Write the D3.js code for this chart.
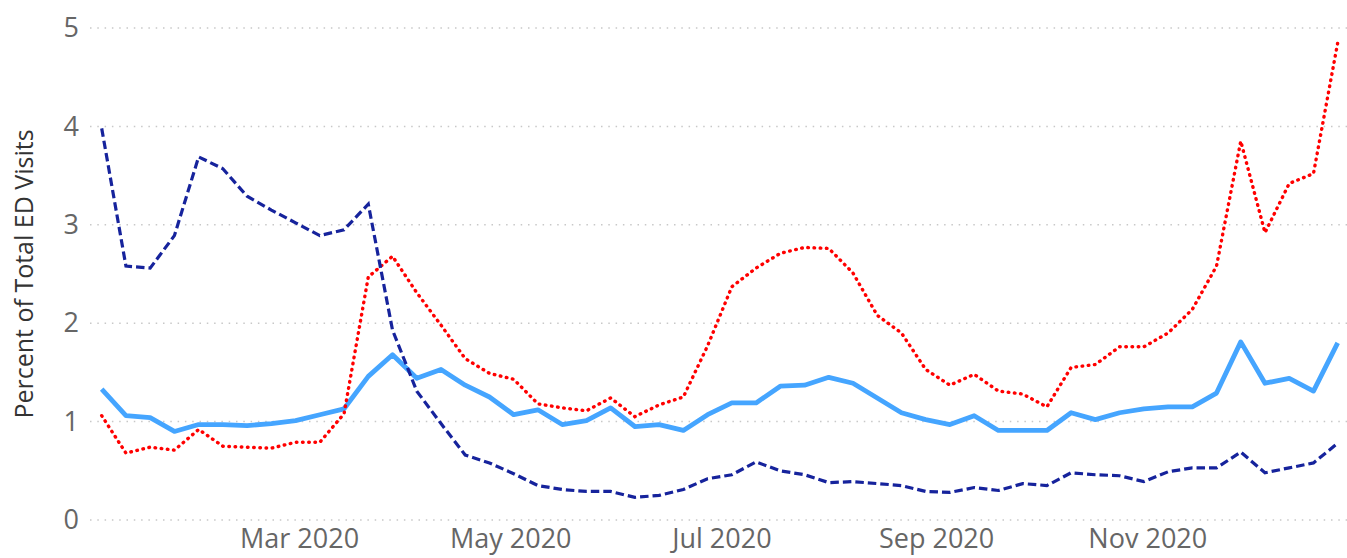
<!DOCTYPE html>
<html>
<head>
<meta charset="utf-8">
<script src="https://cdn.jsdelivr.net/npm/d3@7"></script>
<style>
  html, body { margin: 0; padding: 0; background: #fff; }
  svg { display: block; }
  text { font-family: "Segoe UI", "Open Sans", "Noto Sans", sans-serif; }
</style>
</head>
<body>
<svg id="chart" width="1347" height="558"></svg>
<script>
// ---- data ----
const weeks = [
  "2020-01-04","2020-01-11","2020-01-18","2020-01-25","2020-02-01","2020-02-08","2020-02-15","2020-02-22","2020-02-29",
  "2020-03-07","2020-03-14","2020-03-21","2020-03-28","2020-04-04","2020-04-11","2020-04-18","2020-04-25",
  "2020-05-02","2020-05-09","2020-05-16","2020-05-23","2020-05-30","2020-06-06","2020-06-13","2020-06-20","2020-06-27",
  "2020-07-04","2020-07-11","2020-07-18","2020-07-25","2020-08-01","2020-08-08","2020-08-15","2020-08-22","2020-08-29",
  "2020-09-05","2020-09-12","2020-09-19","2020-09-26","2020-10-03","2020-10-10","2020-10-17","2020-10-24","2020-10-31",
  "2020-11-07","2020-11-14","2020-11-21","2020-11-28","2020-12-05","2020-12-12","2020-12-19","2020-12-26"
];
const darkBlueValues = [3.98,2.58,2.56,2.89,3.69,3.57,3.29,3.15,3.02,2.89,2.95,3.21,1.93,1.31,0.98,0.66,0.58,
  0.47,0.35,0.31,0.29,0.29,0.23,0.25,0.31,0.42,0.46,0.59,0.50,0.46,0.38,0.39,0.37,0.35,0.29,
  0.28,0.33,0.30,0.37,0.35,0.48,0.46,0.45,0.39,0.49,0.53,0.53,0.69,0.48,0.53,0.58,0.78];
const lightBlueValues = [1.33,1.06,1.04,0.90,0.97,0.97,0.96,0.98,1.01,1.07,1.13,1.46,1.68,1.44,1.53,1.37,1.25,
  1.07,1.12,0.97,1.01,1.14,0.95,0.97,0.91,1.07,1.19,1.19,1.36,1.37,1.45,1.39,1.24,1.09,1.02,
  0.97,1.06,0.91,0.91,0.91,1.09,1.02,1.09,1.13,1.15,1.15,1.29,1.81,1.39,1.44,1.31,1.80];
const redValues = [1.06,0.68,0.74,0.71,0.92,0.75,0.74,0.73,0.79,0.79,1.08,2.47,2.68,2.31,1.98,1.64,1.49,
  1.43,1.18,1.14,1.11,1.24,1.05,1.17,1.25,1.77,2.37,2.56,2.71,2.77,2.76,2.51,2.08,1.90,1.53,
  1.37,1.48,1.31,1.28,1.15,1.55,1.58,1.76,1.76,1.90,2.14,2.58,3.85,2.92,3.42,3.52,4.85];
const yTicks = [0, 1, 2, 3, 4, 5];
const xTicks = ["2020-03-01","2020-05-01","2020-07-01","2020-09-01","2020-11-01"];
const yTitle = "Percent of Total ED Visits";

// ---- drawing ----
const parse = d3.utcParse("%Y-%m-%d");
const dates = weeks.map(parse);
const svg = d3.select("#chart");

const x = d3.scaleUtc().domain([dates[0], dates[dates.length - 1]]).range([101.7, 1337.7]);
const y = d3.scaleLinear().domain([0, 5]).range([520, 28]);

// gridlines
svg.append("g").selectAll("line").data(yTicks).join("line")
  .attr("x1", 90).attr("x2", 1347)
  .attr("y1", d => y(d)).attr("y2", d => y(d))
  .attr("stroke", "#c8c8c8").attr("stroke-width", 1.5)
  .attr("stroke-dasharray", "1.5,5.8");

// y axis labels
const yAxis = d3.axisLeft(y).tickValues(yTicks).tickSize(0).tickPadding(0).tickFormat(d3.format("d"));
const gy = svg.append("g").attr("transform", "translate(79,0)").call(yAxis);
gy.select(".domain").remove();
gy.selectAll("text").attr("fill", "#666").style("font-size", "27px")
  .style("font-family", "'Segoe UI','Open Sans','Noto Sans',sans-serif");

// x axis labels
const xAxis = d3.axisBottom(x).tickValues(xTicks.map(parse)).tickSize(0).tickPadding(0)
  .tickFormat(d3.utcFormat("%b %Y"));
const gx = svg.append("g").attr("transform", "translate(0,529)").call(xAxis);
gx.select(".domain").remove();
gx.selectAll("text").attr("fill", "#666").style("font-size", "27px")
  .style("font-family", "'Segoe UI','Open Sans','Noto Sans',sans-serif");

// y title
svg.append("text")
  .attr("transform", "translate(33,274) rotate(-90)")
  .attr("text-anchor", "middle")
  .attr("fill", "#333")
  .style("font-size", "25px")
  .text(yTitle);

const line = d3.line().x((d, i) => x(dates[i])).y(d => y(d));

svg.append("path").datum(lightBlueValues)
  .attr("d", line).attr("fill", "none")
  .attr("stroke", "#45a5ff").attr("stroke-width", 4.8)
  .attr("stroke-linejoin", "round");

svg.append("path").datum(redValues)
  .attr("d", line).attr("fill", "none")
  .attr("stroke", "#ff0000").attr("stroke-width", 3.4)
  .attr("stroke-linecap", "round")
  .attr("stroke-dasharray", "0.6,5.6");

svg.append("path").datum(darkBlueValues)
  .attr("d", line).attr("fill", "none")
  .attr("stroke", "#16239c").attr("stroke-width", 3.2)
  .attr("stroke-dasharray", "8.5,4");
</script>
</body>
</html>
